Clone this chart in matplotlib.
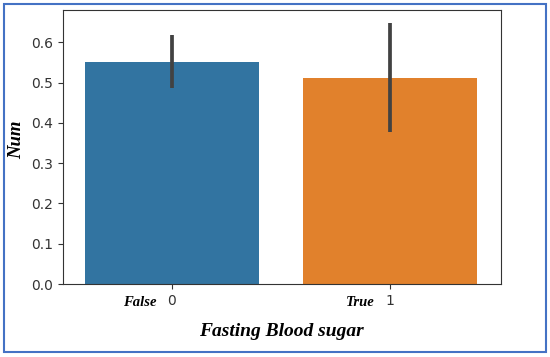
import matplotlib.pyplot as plt
from matplotlib.patches import Rectangle

categories = ["0", "1"]
side_labels = ["False", "True"]
means = [0.550, 0.511]
ci_low = [0.486, 0.378]
ci_high = [0.617, 0.647]
colors = ["#3274a1", "#e1812c"]

fig = plt.figure(figsize=(5.5, 3.57), dpi=100)
ax = fig.add_axes([63 / 550, 1 - 284 / 357, 438 / 550, 274 / 357])

x = range(len(categories))
ax.bar(x, means, width=0.8, color=colors)
ax.vlines(x, ci_low, ci_high, color="#424242", linewidth=2.7)

ax.set_xlim(-0.5, 1.51)
ax.set_ylim(0, 0.68)
ax.set_xticks(list(x))
ax.set_xticklabels(categories)
ax.set_yticks([0.0, 0.1, 0.2, 0.3, 0.4, 0.5, 0.6])
ax.tick_params(labelsize=10, colors="#333333", labelcolor="#333333")
for s in ax.spines.values():
    s.set_color("#333333")

serif = dict(family="Liberation Serif", style="italic", weight="bold")
for i, lab in zip(x, side_labels):
    ax.annotate(lab, xy=(i, 0), xycoords=("data", "axes fraction"),
                xytext=(-11, -13), textcoords="offset points",
                ha="right", va="center", fontsize=10.5, **serif)

fig.text(17 / 550, 1 - 140 / 357, "Num", rotation=90, ha="center", va="center",
         fontsize=13.5, **serif)
fig.text(281 / 550, 1 - 332 / 357, "Fasting Blood sugar", ha="center", va="center",
         fontsize=14, **serif)

fig.patches.append(Rectangle((4 / 550, 5 / 357), 542 / 550, 348 / 357,
                             transform=fig.transFigure, fill=False,
                             edgecolor="#4472c4", linewidth=1.5))

fig.savefig("out.png", dpi=100)
